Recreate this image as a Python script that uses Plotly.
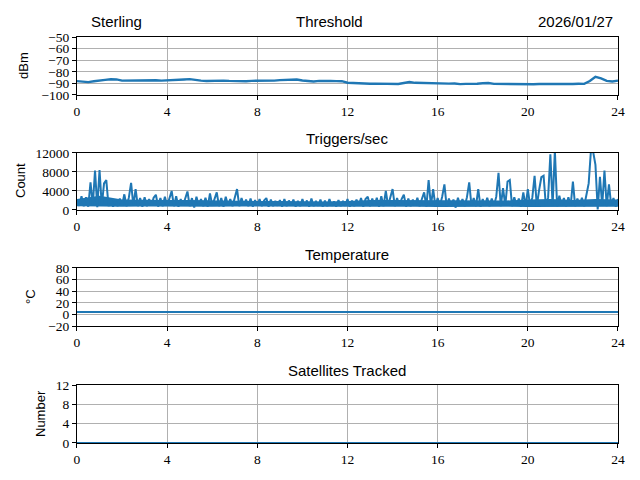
import plotly.graph_objects as go

# time axes (hours)
thr_hours = [i * 0.25 for i in range(97)]
trig_hours = [round(i * 0.1, 1) for i in range(241)]
band_hours = list(range(25))
temp_hours = [0, 18.6, 18.8, 19.2, 19.6, 19.7, 24]
sat_hours = [0, 24]

# threshold, dBm, every 15 min
threshold = [
    -88.0, -88.6, -88.9, -88.2, -87.3, -87.0, -86.4, -86.6, -87.6, -87.5, -87.8, -87.4,
    -87.6, -87.7, -87.3, -87.6, -87.2, -87.4, -87.0, -86.6, -86.3, -87.2, -87.6, -87.9,
    -87.6, -87.4, -87.6, -87.8, -88.0, -87.9, -88.1, -87.8, -87.9, -88.0, -87.8, -87.6,
    -87.2, -87.0, -86.4, -86.7, -87.5, -87.9, -88.3, -87.8, -87.6, -87.9, -88.0, -88.1,
    -89.4, -89.7, -89.9, -90.1, -90.3, -90.2, -90.4, -90.2, -90.6, -90.5, -89.7, -88.8,
    -89.5, -89.7, -89.6, -89.8, -89.7, -89.9, -90.2, -90.1, -90.6, -90.4, -90.5, -90.3,
    -89.9, -89.7, -90.4, -90.5, -90.6, -90.4, -90.5, -90.6, -90.5, -90.7, -90.5, -90.6,
    -90.5, -90.4, -90.5, -90.6, -90.5, -90.3, -90.4, -88.0, -84.4, -85.6, -87.8, -88.4,
    -87.6,
]

# triggers per second, every 6 min
triggers = [
    1800, 900, 2900, 800, 2700, 700, 5800, 1000, 8300, 600,
    8400, 900, 5600, 6300, 800, 2300, 700, 2100, 800, 2400,
    900, 3300, 800, 2600, 5700, 900, 4400, 800, 2500, 700,
    2700, 800, 2300, 900, 2600, 3200, 700, 2500, 800, 2800,
    900, 2400, 4000, 800, 2900, 700, 2300, 900, 2700, 3900,
    800, 2500, 500, 2800, 900, 2300, 800, 2600, 700, 3500,
    900, 2400, 3700, 800, 2500, 700, 2800, 900, 2300, 800,
    2600, 4400, 800, 2500, 900, 2200, 800, 2400, 700, 2100,
    900, 2300, 800, 2000, 2500, 700, 2200, 800, 1900, 900,
    2100, 700, 2300, 800, 2000, 900, 2200, 700, 1900, 800,
    2300, 900, 2000, 700, 2400, 800, 1900, 900, 2200, 700,
    2000, 800, 2300, 900, 1800, 700, 2100, 800, 1900, 900,
    2300, 700, 2000, 800, 2200, 900, 2500, 700, 2300, 2800,
    800, 2400, 900, 2600, 700, 2900, 800, 4000, 900, 2700,
    4400, 800, 2500, 900, 2300, 3200, 700, 2400, 800, 2200,
    900, 2600, 800, 2300, 3700, 700, 6300, 900, 4400, 800,
    2500, 900, 2800, 5400, 700, 2400, 800, 2200, 500, 2600,
    900, 2300, 800, 2700, 5800, 900, 2500, 800, 4400, 700,
    2300, 900, 2600, 800, 2400, 900, 2800, 7800, 800, 4600,
    900, 6000, 6300, 800, 2700, 900, 2400, 700, 3700, 800,
    4400, 900, 2600, 7200, 800, 4200, 6900, 7200, 900, 2600,
    11700, 900, 12500, 800, 3000, 900, 2500, 800, 2700, 900,
    6000, 800, 2400, 900, 2600, 800, 3000, 5600, 12500, 12200,
    9500, 100, 7000, 900, 8300, 800, 5400, 900, 2500, 700,
    2300,
]

# dense core of the trigger trace, hourly
trig_band_low = [800, 700, 700, 750, 700, 650, 700, 750, 700, 700, 750, 700, 700,
                 750, 700, 700, 650, 700, 750, 700, 650, 700, 700, 650, 700]
trig_band_high = [2300, 3000, 2200, 2100, 2100, 2100, 2000, 2000, 1900, 1900, 1800, 1800,
                  1900, 2100, 2100, 2100, 2000, 2000, 2000, 2000, 2200, 2300, 2100, 2300, 2200]

temperature = [4.3, 4.3, 3.6, 3.4, 3.6, 4.3, 4.3]
satellites = [0, 0]

x_ticks = [0, 4, 8, 12, 16, 20, 24]
blue = "#1f77b4"
tick_font = dict(family="Liberation Serif, DejaVu Serif, serif", size=13.5, color="black")
sans = "Liberation Sans"

panels = [
    (thr_hours, threshold, [-100, -50], [-100, -90, -80, -70, -60, -50], [0.8021, 0.9229], 2.4),
    (trig_hours, triggers, [0, 12000], [0, 4000, 8000, 12000], [0.5625, 0.6813], 2.0),
    (temp_hours, temperature, [-20, 80], [-20, 0, 20, 40, 60, 80], [0.3208, 0.4417], 2.0),
    (sat_hours, satellites, [0, 12], [0, 4, 8, 12], [0.0771, 0.1979], 2.0),
]

fig = go.Figure()
layout = dict()
for i, (xs, ys, yr, yt, dom, lw) in enumerate(panels):
    n = "" if i == 0 else str(i + 1)
    if i == 1:
        fig.add_trace(go.Scatter(x=band_hours, y=trig_band_low, mode="lines",
                                 line=dict(color=blue, width=0), xaxis="x2", yaxis="y2",
                                 showlegend=False))
        fig.add_trace(go.Scatter(x=band_hours, y=trig_band_high, mode="lines",
                                 line=dict(color=blue, width=0), fill="tonexty",
                                 fillcolor=blue, xaxis="x2", yaxis="y2", showlegend=False))
    fig.add_trace(go.Scatter(x=xs, y=ys, mode="lines", line=dict(color=blue, width=lw),
                             xaxis="x" + n, yaxis="y" + n, showlegend=False))
    layout["xaxis" + n] = dict(domain=[0.1203, 0.9656], anchor="y" + n, range=[0, 24],
                               tickvals=x_ticks, showgrid=True, gridcolor="#b0b0b0", gridwidth=1,
                               showline=True, mirror=True, linecolor="black", linewidth=1,
                               ticks="outside", ticklen=4, tickcolor="black",
                               tickfont=tick_font, zeroline=False)
    layout["yaxis" + n] = dict(domain=dom, anchor="x" + n, range=yr, tickvals=yt,
                               tickformat="d",
                               showgrid=True, gridcolor="#b0b0b0", gridwidth=1,
                               showline=True, mirror=True, linecolor="black", linewidth=1,
                               ticks="outside", ticklen=4, tickcolor="black",
                               tickfont=tick_font, zeroline=False)

titles = [
    ("Sterling", 89 / 640, 22, "left"),
    ("Threshold", 329 / 640, 22, "center"),
    ("2026/01/27", 615 / 640, 22, "right"),
    ("Triggers/sec", 347 / 640, 138, "center"),
    ("Temperature", 347 / 640, 254, "center"),
    ("Satellites Tracked", 347 / 640, 370, "center"),
]
ylabels = [("dBm", 24, 66), ("Count", 20, 181), ("°C", 30, 297), ("Number", 40, 414)]

annotations = []
for text, x, ypx, anchor in titles:
    annotations.append(dict(text=text, x=x, y=1 - ypx / 480, xref="paper", yref="paper",
                            xanchor=anchor, yanchor="middle", showarrow=False,
                            font=dict(family=sans, size=15, color="black")))
for text, xpx, ypx in ylabels:
    annotations.append(dict(text=text, x=xpx / 640, y=1 - ypx / 480, xref="paper", yref="paper",
                            xanchor="center", yanchor="middle", showarrow=False, textangle=-90,
                            font=dict(family=sans, size=13, color="black")))

fig.update_layout(width=640, height=480,
                  margin=dict(l=0, r=0, t=0, b=0, autoexpand=False),
                  paper_bgcolor="white", plot_bgcolor="white",
                  annotations=annotations, **layout)

# drop the browser's default 8px body margin so the figure sits at the page corner
fig.write_html("out.html", config={"displayModeBar": False},
               post_script="document.body.style.margin = '0';")
